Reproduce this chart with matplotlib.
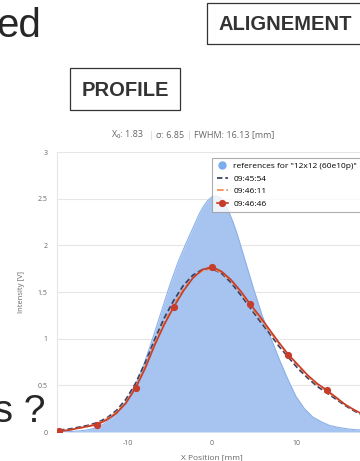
import matplotlib
matplotlib.use("Agg")
import matplotlib.pyplot as plt
from matplotlib.lines import Line2D
from matplotlib.patches import Rectangle

# ---------------- data ----------------
ref_x = [-18, -17, -16, -15, -14, -13, -12, -11, -10, -9, -8, -7, -6, -5, -4, -3,
         -2.5, -2, -1.5, -1, -0.5, 0, 0.5, 1, 1.5, 2, 2.5, 3,
         4, 5, 6, 7, 8, 9, 10, 11, 12, 13, 14, 15, 16, 17, 18]
ref_y = [0.0, 0.005, 0.01, 0.02, 0.04, 0.08, 0.14, 0.23, 0.36, 0.53, 0.75, 1.02, 1.30, 1.58,
         1.83, 2.04, 2.14, 2.24, 2.34, 2.42, 2.48, 2.52, 2.53, 2.51, 2.45, 2.36, 2.25, 2.12,
         1.82, 1.52, 1.24, 1.01, 0.78, 0.57, 0.38, 0.25, 0.16, 0.11, 0.07, 0.05, 0.035,
         0.025, 0.02]

scan_x = [-18.2, -17.06, -15.925, -14.79, -13.65, -12.51, -11.375, -10.24, -9.1,
          -7.96, -6.825, -5.69, -4.55, -3.41, -2.275, -1.14, 0.0,
          1.14, 2.275, 3.41, 4.55, 5.69, 6.825, 7.96, 9.1,
          10.24, 11.375, 12.51, 13.65, 14.79, 15.925, 17.06, 18.2]
s_0945 = [0.02, 0.03, 0.05, 0.07, 0.10, 0.15, 0.23, 0.35, 0.52,
          0.74, 0.99, 1.22, 1.41, 1.57, 1.68, 1.74, 1.75,
          1.70, 1.60, 1.47, 1.33, 1.19, 1.06, 0.92, 0.80,
          0.68, 0.58, 0.49, 0.42, 0.35, 0.28, 0.22, 0.17]
s_0946a = [0.01, 0.02, 0.04, 0.06, 0.09, 0.14, 0.21, 0.32, 0.48,
           0.70, 0.95, 1.17, 1.36, 1.53, 1.65, 1.73, 1.75,
           1.71, 1.62, 1.50, 1.35, 1.22, 1.08, 0.95, 0.82,
           0.71, 0.60, 0.51, 0.44, 0.36, 0.29, 0.23, 0.18]
s_0946b = [0.01, 0.02, 0.04, 0.06, 0.08, 0.13, 0.20, 0.31, 0.47,
           0.68, 0.93, 1.15, 1.34, 1.51, 1.65, 1.74, 1.77,
           1.72, 1.63, 1.51, 1.37, 1.24, 1.10, 0.96, 0.83,
           0.72, 0.61, 0.52, 0.45, 0.37, 0.29, 0.23, 0.18]

series_names = ['references for "12x12 (60e10p)"', "09:45:54", "09:46:11", "09:46:46"]
y_ticks = [0, 0.5, 1, 1.5, 2, 2.5, 3]
y_tick_labels = ["0", "0.5", "1", "1.5", "2", "2.5", "3"]
x_ticks = [-10, 0, 10]
x_tick_labels = ["-10", "0", "10"]
title_parts = ["X\u2080: 1.83", "\u03c3: 6.85", "FWHM: 16.13 [mm]"]

# ---------------- figure ----------------
W, H = 360, 461
fig = plt.figure(figsize=(W / 100, H / 100), dpi=100)
fig.patch.set_facecolor("white")

def fx(px):
    return px / W

def fy(py):
    return 1 - py / H

chart_font = ["Open Sans", "DejaVu Sans"]

ax = fig.add_axes([fx(57), fy(432), fx(388.4) - fx(57), fy(152) - fy(432)])
ax.set_xlim(-18.45, 21)
ax.set_ylim(0, 3)

ax.fill_between(ref_x, ref_y, 0, color="#a6c4ef", lw=0, zorder=1)
ax.plot(ref_x, ref_y, color="#8cb2e9", lw=0.8, zorder=1.5)

ax.plot(scan_x, s_0945, color="#3b4468", lw=1.3, dashes=(3, 1.6), zorder=3)
ax.plot(scan_x, s_0946a, color="#f0894a", lw=1.2, dashes=(4, 1.6), zorder=3.5)
ax.plot(scan_x, s_0946b, color="#c73d2b", lw=1.2, marker="o", markersize=4.2,
        markevery=4, zorder=4)

ax.set_yticks(y_ticks)
ax.set_yticklabels(y_tick_labels)
ax.set_xticks(x_ticks)
ax.set_xticklabels(x_tick_labels)
ax.tick_params(axis="both", length=0, labelsize=5, labelcolor="#666666")
ax.tick_params(axis="y", pad=7)
ax.tick_params(axis="x", pad=6)
for lab in ax.get_xticklabels() + ax.get_yticklabels():
    lab.set_family(chart_font)
ax.grid(axis="y", color="#e6e6e6", lw=0.8)
ax.set_axisbelow(True)
for s in ["top", "right", "bottom"]:
    ax.spines[s].set_visible(False)
ax.spines["left"].set_color("#e6e6e6")
ax.spines["left"].set_linewidth(0.8)

ax.set_xlabel("X Position [mm]", fontsize=6, color="#666666", family=chart_font)
ax.set_ylabel("Intensity [V]", fontsize=5.5, color="#666666", family=chart_font)
ax.xaxis.set_label_coords((212 - 57) / (388.4 - 57), -(454 - 432) / 280)
ax.yaxis.set_label_coords(-(57 - 25) / (388.4 - 57), 0.5)

# subtitle with lighter separators
sep_col = "#d0d0d0"
fig.text(fx(112), fy(135), title_parts[0], ha="left", va="center", fontsize=6.5,
         color="#666666", family=chart_font)
fig.text(fx(151), fy(135), "|", ha="center", va="center", fontsize=6.5,
         color=sep_col, family=chart_font)
fig.text(fx(156), fy(135), title_parts[1], ha="left", va="center", fontsize=6.5,
         color="#666666", family=chart_font)
fig.text(fx(189), fy(135), "|", ha="center", va="center", fontsize=6.5,
         color=sep_col, family=chart_font)
fig.text(fx(194), fy(135), title_parts[2], ha="left", va="center", fontsize=6.5,
         color="#666666", family=chart_font)

handles = [
    Line2D([], [], color="#7cacec", marker="o", linestyle="none", markersize=5),
    Line2D([], [], color="#3b4468", lw=1.3, dashes=(3, 1.6)),
    Line2D([], [], color="#f0894a", lw=1.2, dashes=(4, 1.6)),
    Line2D([], [], color="#c73d2b", lw=1.2, marker="o", markersize=4.2),
]
leg = ax.legend(handles, series_names, loc="upper left",
                bbox_to_anchor=(fx(212), fy(158)), bbox_transform=fig.transFigure,
                prop={"family": chart_font, "size": 6}, frameon=True, fancybox=False,
                edgecolor="#999999", borderpad=0.55, labelspacing=0.55,
                handlelength=1.4, handletextpad=0.6, borderaxespad=0)
leg.get_frame().set_linewidth(0.8)
leg.set_zorder(10)

# ---------------- slide overlay texts ----------------
fig.text(fx(41), fy(37), "ed", ha="right", va="baseline", fontsize=29,
         color="#262626", family="Liberation Sans")
fig.text(fx(46), fy(421.5), "es ?", ha="right", va="baseline", fontsize=28,
         color="#262626", family="Liberation Sans")

fig.patches.append(Rectangle((fx(207), fy(44)), fx(362) - fx(207), fy(3) - fy(44),
                             transform=fig.transFigure, fill=False, edgecolor="#333333",
                             lw=0.9))
fig.text(fx(285), fy(24), "ALIGNEMENT", ha="center", va="center", fontsize=14.5,
         fontweight="bold", color="#333333", family="Liberation Sans")

fig.patches.append(Rectangle((fx(70), fy(110)), fx(180) - fx(70), fy(68) - fy(110),
                             transform=fig.transFigure, fill=False, edgecolor="#333333",
                             lw=0.9))
fig.text(fx(125), fy(90), "PROFILE", ha="center", va="center", fontsize=14.5,
         fontweight="bold", color="#333333", family="Liberation Sans")

fig.savefig("out.png", dpi=100)
